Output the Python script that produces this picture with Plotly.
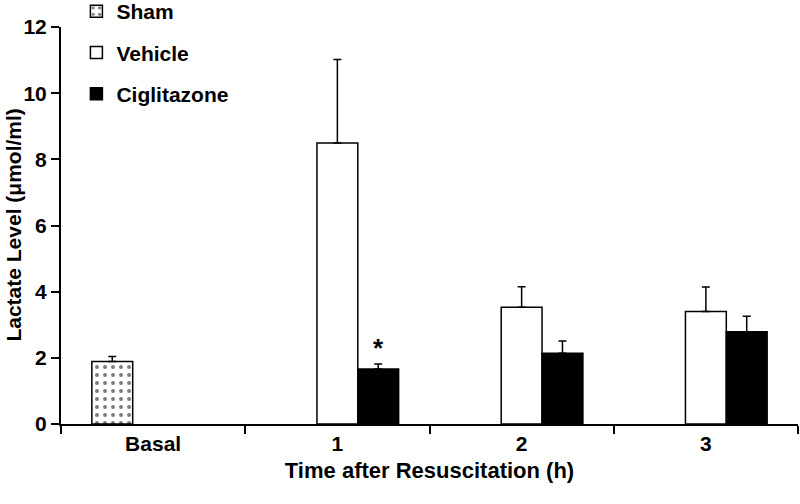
import plotly.graph_objects as go

categories = ["Basal", "1", "2", "3"]
sham_vals = [1.89, None, None, None]
sham_err = [0.15, 0, 0, 0]
vehicle_vals = [None, 8.49, 3.53, 3.40]
vehicle_err = [0, 2.53, 0.62, 0.74]
cig_vals = [None, 1.66, 2.14, 2.79]
cig_err = [0, 0.15, 0.37, 0.47]
y_ticks = [0, 2, 4, 6, 8, 10, 12]

font_family = "Liberation Sans, Arial, sans-serif"
FS = 21

fig = go.Figure()
common_err = dict(type="data", symmetric=False, color="black", thickness=1.5, width=4)

fig.add_trace(go.Bar(
    name="<b>Sham</b>", x=categories, y=sham_vals, legendgroup="a",
    marker=dict(color="white", line=dict(color="black", width=1.5),
                pattern=dict(shape=".", fgcolor="black", bgcolor="white", size=8, solidity=0.2)),
    error_y=dict(array=sham_err, arrayminus=[0]*4, **common_err),
))
fig.add_trace(go.Bar(
    name="<b>Vehicle</b>", x=categories, y=vehicle_vals, legendgroup="b",
    marker=dict(color="white", line=dict(color="black", width=1.5)),
    error_y=dict(array=vehicle_err, arrayminus=[0]*4, **common_err),
))
fig.add_trace(go.Bar(
    name="<b>Ciglitazone</b>", x=categories, y=cig_vals, legendgroup="c",
    marker=dict(color="black", line=dict(color="black", width=1.5)),
    error_y=dict(array=cig_err, arrayminus=[0]*4, **common_err),
))

fig.add_annotation(x="1", y=2.3, xref="x", yref="y", text="<b>*</b>", showarrow=False,
                   xshift=41, font=dict(size=26, color="black", family=font_family))

# y-axis title as rotated text
fig.add_annotation(x=-0.065, y=0.5, xref="paper", yref="paper", textangle=-90,
                   text="<b>Lactate Level (μmol/ml)</b>", showarrow=False,
                   xanchor="center", yanchor="middle",
                   font=dict(size=FS, color="black", family=font_family))

fig.update_layout(
    width=800, height=504,
    margin=dict(l=61, r=2, t=27, b=80, autoexpand=False),
    paper_bgcolor="white", plot_bgcolor="white",
    barmode="group", bargap=0.335, bargroupgap=0,
    font=dict(family=font_family, size=FS, color="black"),
    legend=dict(x=0.0955, y=1.0907, xref="container", yref="paper",
                xanchor="left", yanchor="top", traceorder="grouped",
                tracegroupgap=11, font=dict(size=FS, family=font_family),
                bgcolor="rgba(0,0,0,0)", itemwidth=30),
    xaxis=dict(
        title=dict(text="<b>Time after Resuscitation (h)</b>", standoff=8, font=dict(size=22)),
        tickvals=categories, ticktext=["<b>%s</b>" % c for c in categories],
        tickson="boundaries", ticks="outside", ticklen=8, tickwidth=2, tickcolor="black",
        showline=True, linecolor="black", linewidth=2, showgrid=False,
    ),
    yaxis=dict(
        range=[0, 12], tickvals=y_ticks,
        ticktext=["<b>%d</b>" % v for v in y_ticks],
        ticks="outside", ticklen=8, tickwidth=2, tickcolor="black",
        showline=True, linecolor="black", linewidth=2, showgrid=False, zeroline=False,
    ),
)

fig.write_html("out.html", config={"displayModeBar": False},
               post_script="document.body.style.margin='0px';")
